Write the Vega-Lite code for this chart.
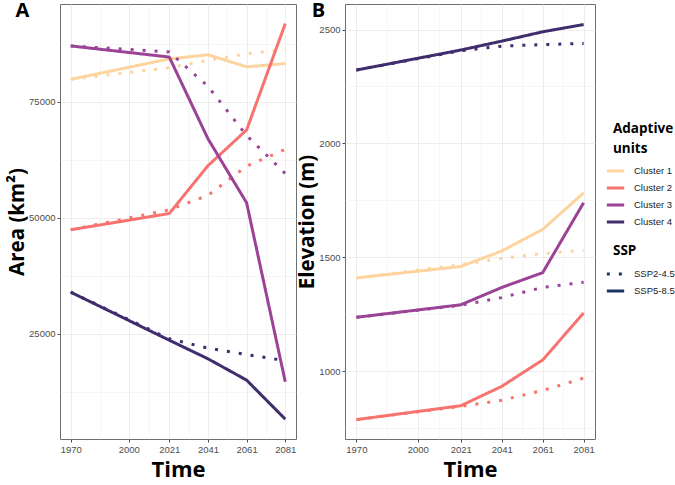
{
  "$schema": "https://vega.github.io/schema/vega-lite/v6.json",
  "padding": {"top": 0, "left": 7, "right": 0, "bottom": 0},
  "background": "white",
  "datasets": {
    "area": [
      {"cluster": "Cluster 1", "ssp": "SSP5-8.5", "year": 1970, "value": 79800},
      {"cluster": "Cluster 1", "ssp": "SSP5-8.5", "year": 2021, "value": 84200},
      {"cluster": "Cluster 1", "ssp": "SSP5-8.5", "year": 2041, "value": 85100},
      {"cluster": "Cluster 1", "ssp": "SSP5-8.5", "year": 2061, "value": 82500},
      {"cluster": "Cluster 1", "ssp": "SSP5-8.5", "year": 2081, "value": 83200},
      {"cluster": "Cluster 1", "ssp": "SSP2-4.5", "year": 1970, "value": 79800},
      {"cluster": "Cluster 1", "ssp": "SSP2-4.5", "year": 2021, "value": 82300},
      {"cluster": "Cluster 1", "ssp": "SSP2-4.5", "year": 2041, "value": 83900},
      {"cluster": "Cluster 1", "ssp": "SSP2-4.5", "year": 2061, "value": 85300},
      {"cluster": "Cluster 1", "ssp": "SSP2-4.5", "year": 2081, "value": 86200},
      {"cluster": "Cluster 2", "ssp": "SSP5-8.5", "year": 1970, "value": 47400},
      {"cluster": "Cluster 2", "ssp": "SSP5-8.5", "year": 2021, "value": 50900},
      {"cluster": "Cluster 2", "ssp": "SSP5-8.5", "year": 2041, "value": 61200},
      {"cluster": "Cluster 2", "ssp": "SSP5-8.5", "year": 2061, "value": 68900},
      {"cluster": "Cluster 2", "ssp": "SSP5-8.5", "year": 2081, "value": 91800},
      {"cluster": "Cluster 2", "ssp": "SSP2-4.5", "year": 1970, "value": 47400},
      {"cluster": "Cluster 2", "ssp": "SSP2-4.5", "year": 2021, "value": 51700},
      {"cluster": "Cluster 2", "ssp": "SSP2-4.5", "year": 2041, "value": 54800},
      {"cluster": "Cluster 2", "ssp": "SSP2-4.5", "year": 2061, "value": 61100},
      {"cluster": "Cluster 2", "ssp": "SSP2-4.5", "year": 2081, "value": 64700},
      {"cluster": "Cluster 3", "ssp": "SSP5-8.5", "year": 1970, "value": 87000},
      {"cluster": "Cluster 3", "ssp": "SSP5-8.5", "year": 2021, "value": 84600},
      {"cluster": "Cluster 3", "ssp": "SSP5-8.5", "year": 2041, "value": 67000},
      {"cluster": "Cluster 3", "ssp": "SSP5-8.5", "year": 2061, "value": 53200},
      {"cluster": "Cluster 3", "ssp": "SSP5-8.5", "year": 2081, "value": 14650},
      {"cluster": "Cluster 3", "ssp": "SSP2-4.5", "year": 1970, "value": 87000},
      {"cluster": "Cluster 3", "ssp": "SSP2-4.5", "year": 2021, "value": 85700},
      {"cluster": "Cluster 3", "ssp": "SSP2-4.5", "year": 2041, "value": 78300},
      {"cluster": "Cluster 3", "ssp": "SSP2-4.5", "year": 2061, "value": 67700},
      {"cluster": "Cluster 3", "ssp": "SSP2-4.5", "year": 2081, "value": 59500},
      {"cluster": "Cluster 4", "ssp": "SSP5-8.5", "year": 1970, "value": 33950},
      {"cluster": "Cluster 4", "ssp": "SSP5-8.5", "year": 2021, "value": 23600},
      {"cluster": "Cluster 4", "ssp": "SSP5-8.5", "year": 2041, "value": 19600},
      {"cluster": "Cluster 4", "ssp": "SSP5-8.5", "year": 2061, "value": 15000},
      {"cluster": "Cluster 4", "ssp": "SSP5-8.5", "year": 2081, "value": 6600},
      {"cluster": "Cluster 4", "ssp": "SSP2-4.5", "year": 1970, "value": 33950},
      {"cluster": "Cluster 4", "ssp": "SSP2-4.5", "year": 2021, "value": 23900},
      {"cluster": "Cluster 4", "ssp": "SSP2-4.5", "year": 2041, "value": 21900},
      {"cluster": "Cluster 4", "ssp": "SSP2-4.5", "year": 2061, "value": 20500},
      {"cluster": "Cluster 4", "ssp": "SSP2-4.5", "year": 2081, "value": 19200}
    ],
    "elev": [
      {"cluster": "Cluster 1", "ssp": "SSP5-8.5", "year": 1970, "value": 1410},
      {"cluster": "Cluster 1", "ssp": "SSP5-8.5", "year": 2021, "value": 1460},
      {"cluster": "Cluster 1", "ssp": "SSP5-8.5", "year": 2041, "value": 1528},
      {"cluster": "Cluster 1", "ssp": "SSP5-8.5", "year": 2061, "value": 1623},
      {"cluster": "Cluster 1", "ssp": "SSP5-8.5", "year": 2081, "value": 1783},
      {"cluster": "Cluster 1", "ssp": "SSP2-4.5", "year": 1970, "value": 1410},
      {"cluster": "Cluster 1", "ssp": "SSP2-4.5", "year": 2021, "value": 1468},
      {"cluster": "Cluster 1", "ssp": "SSP2-4.5", "year": 2041, "value": 1496},
      {"cluster": "Cluster 1", "ssp": "SSP2-4.5", "year": 2061, "value": 1517},
      {"cluster": "Cluster 1", "ssp": "SSP2-4.5", "year": 2081, "value": 1531},
      {"cluster": "Cluster 2", "ssp": "SSP5-8.5", "year": 1970, "value": 788},
      {"cluster": "Cluster 2", "ssp": "SSP5-8.5", "year": 2021, "value": 849},
      {"cluster": "Cluster 2", "ssp": "SSP5-8.5", "year": 2041, "value": 934},
      {"cluster": "Cluster 2", "ssp": "SSP5-8.5", "year": 2061, "value": 1050},
      {"cluster": "Cluster 2", "ssp": "SSP5-8.5", "year": 2081, "value": 1256},
      {"cluster": "Cluster 2", "ssp": "SSP2-4.5", "year": 1970, "value": 788},
      {"cluster": "Cluster 2", "ssp": "SSP2-4.5", "year": 2021, "value": 846},
      {"cluster": "Cluster 2", "ssp": "SSP2-4.5", "year": 2041, "value": 873},
      {"cluster": "Cluster 2", "ssp": "SSP2-4.5", "year": 2061, "value": 916},
      {"cluster": "Cluster 2", "ssp": "SSP2-4.5", "year": 2081, "value": 970},
      {"cluster": "Cluster 3", "ssp": "SSP5-8.5", "year": 1970, "value": 1237},
      {"cluster": "Cluster 3", "ssp": "SSP5-8.5", "year": 2021, "value": 1292},
      {"cluster": "Cluster 3", "ssp": "SSP5-8.5", "year": 2041, "value": 1368},
      {"cluster": "Cluster 3", "ssp": "SSP5-8.5", "year": 2061, "value": 1433},
      {"cluster": "Cluster 3", "ssp": "SSP5-8.5", "year": 2081, "value": 1740},
      {"cluster": "Cluster 3", "ssp": "SSP2-4.5", "year": 1970, "value": 1237},
      {"cluster": "Cluster 3", "ssp": "SSP2-4.5", "year": 2021, "value": 1290},
      {"cluster": "Cluster 3", "ssp": "SSP2-4.5", "year": 2041, "value": 1324},
      {"cluster": "Cluster 3", "ssp": "SSP2-4.5", "year": 2061, "value": 1368},
      {"cluster": "Cluster 3", "ssp": "SSP2-4.5", "year": 2081, "value": 1391},
      {"cluster": "Cluster 4", "ssp": "SSP5-8.5", "year": 1970, "value": 2322},
      {"cluster": "Cluster 4", "ssp": "SSP5-8.5", "year": 2021, "value": 2410},
      {"cluster": "Cluster 4", "ssp": "SSP5-8.5", "year": 2041, "value": 2449},
      {"cluster": "Cluster 4", "ssp": "SSP5-8.5", "year": 2061, "value": 2490},
      {"cluster": "Cluster 4", "ssp": "SSP5-8.5", "year": 2081, "value": 2522},
      {"cluster": "Cluster 4", "ssp": "SSP2-4.5", "year": 1970, "value": 2322},
      {"cluster": "Cluster 4", "ssp": "SSP2-4.5", "year": 2021, "value": 2407},
      {"cluster": "Cluster 4", "ssp": "SSP2-4.5", "year": 2041, "value": 2427},
      {"cluster": "Cluster 4", "ssp": "SSP2-4.5", "year": 2061, "value": 2434},
      {"cluster": "Cluster 4", "ssp": "SSP2-4.5", "year": 2081, "value": 2439}
    ]
  },
  "hconcat": [
    {
      "width": 236,
      "height": 435,
      "data": {"name": "area"},
      "title": {"text": "A", "anchor": "start", "frame": "bounds", "font": "Open Sans", "fontWeight": "bold", "fontSize": 20, "color": "#000", "offset": -17, "dx": 8},
      "mark": {"type": "line", "strokeWidth": 3, "strokeCap": "butt", "strokeJoin": "round"},
      "encoding": {
        "x": {
          "field": "year", "type": "quantitative",
          "scale": {"domain": [1964.45, 2086.55], "nice": false, "zero": false},
          "axis": {
            "title": "Time",
            "titlePadding": 6,
            "titleFontSize": 22,
            "values": [1970, 1985, 2000, 2010.5, 2021, 2031, 2041, 2051, 2061, 2071, 2081],
            "format": "d",
            "labelOverlap": false,
            "labelExpr": "indexof([1970,2000,2021,2041,2061,2081], datum.value) >= 0 ? datum.label : ''",
            "tickOpacity": {"condition": {"test": "indexof([1970,2000,2021,2041,2061,2081], datum.value) >= 0", "value": 1}, "value": 0},
            "gridWidth": {"condition": {"test": "indexof([1970,2000,2021,2041,2061,2081], datum.value) >= 0", "value": 0.9}, "value": 0.45}
          }
        },
        "y": {
          "field": "value", "type": "quantitative",
          "scale": {"domain": [2320, 96030], "nice": false, "zero": false},
          "axis": {
            "title": "Area (km²)",
            "values": [12500, 25000, 37500, 50000, 62500, 75000, 87500],
            "format": "d",
            "labelOverlap": false,
            "labelExpr": "datum.value % 25000 == 0 ? datum.label : ''",
            "tickOpacity": {"condition": {"test": "datum.value % 25000 == 0", "value": 1}, "value": 0},
            "gridWidth": {"condition": {"test": "datum.value % 25000 == 0", "value": 0.9}, "value": 0.45}
          }
        },
        "color": {
          "field": "cluster", "type": "nominal",
          "scale": {"domain": ["Cluster 1", "Cluster 2", "Cluster 3", "Cluster 4"], "range": ["#FDD49E", "#F7736F", "#9A4397", "#3F2D6D"]},
          "legend": {
            "title": ["Adaptive", "units"], "orient": "none", "legendX": 545, "legendY": 118, "symbolSize": 300, "symbolStrokeWidth": 3, "rowPadding": -1, "titlePadding": 5, "symbolDash": [1, 0],
            "encode": {"title": {"update": {"dx": {"value": 8}}}}
          }
        },
        "strokeDash": {
          "field": "ssp", "type": "nominal",
          "scale": {"domain": ["SSP2-4.5", "SSP5-8.5"], "range": [[3, 9], [1, 0]]},
          "legend": {
            "title": "SSP", "orient": "none", "legendX": 545, "legendY": 240, "symbolSize": 300, "symbolStrokeWidth": 3, "rowPadding": -1, "titlePadding": 6, "symbolStrokeColor": "#1D3461",
            "encode": {"title": {"update": {"dx": {"value": 8}}}}
          }
        }
      }
    },
    {
      "width": 250,
      "height": 435,
      "data": {"name": "elev"},
      "title": {"text": "B", "anchor": "start", "frame": "bounds", "font": "Open Sans", "fontWeight": "bold", "fontSize": 20, "color": "#000", "offset": -17, "dx": 14},
      "mark": {"type": "line", "strokeWidth": 3, "strokeCap": "butt", "strokeJoin": "round"},
      "encoding": {
        "x": {
          "field": "year", "type": "quantitative",
          "scale": {"domain": [1964.45, 2086.55], "nice": false, "zero": false},
          "axis": {
            "title": "Time",
            "titlePadding": 6,
            "titleFontSize": 22,
            "values": [1970, 1985, 2000, 2010.5, 2021, 2031, 2041, 2051, 2061, 2071, 2081],
            "format": "d",
            "labelOverlap": false,
            "labelExpr": "indexof([1970,2000,2021,2041,2061,2081], datum.value) >= 0 ? datum.label : ''",
            "tickOpacity": {"condition": {"test": "indexof([1970,2000,2021,2041,2061,2081], datum.value) >= 0", "value": 1}, "value": 0},
            "gridWidth": {"condition": {"test": "indexof([1970,2000,2021,2041,2061,2081], datum.value) >= 0", "value": 0.9}, "value": 0.45}
          }
        },
        "y": {
          "field": "value", "type": "quantitative",
          "scale": {"domain": [703, 2612], "nice": false, "zero": false},
          "axis": {
            "title": "Elevation (m)",
            "values": [750, 1000, 1250, 1500, 1750, 2000, 2250, 2500],
            "format": "d",
            "labelOverlap": false,
            "labelExpr": "datum.value % 500 == 0 ? datum.label : ''",
            "tickOpacity": {"condition": {"test": "datum.value % 500 == 0", "value": 1}, "value": 0},
            "gridWidth": {"condition": {"test": "datum.value % 500 == 0", "value": 0.9}, "value": 0.45}
          }
        },
        "color": {"field": "cluster", "type": "nominal"},
        "strokeDash": {"field": "ssp", "type": "nominal"}
      }
    }
  ],
  "spacing": 0,
  "config": {
    "view": {"stroke": "#6e6e6e", "strokeWidth": 1},
    "axis": {
      "domain": false,
      "labelFont": "Liberation Sans",
      "labelFontSize": 9.5,
      "labelColor": "#4d4d4d",
      "labelPadding": 2,
      "tickColor": "#4d4d4d",
      "tickSize": 3,
      "gridColor": "#ebebeb",
      "titleFont": "Open Sans",
      "titleFontWeight": "bold",
      "titleFontSize": 20.5,
      "titleColor": "#000",
      "titlePadding": 1
    },
    "legend": {
      "titleFont": "Open Sans",
      "titleFontWeight": "bold",
      "titleFontSize": 13.5,
      "titleColor": "#000",
      "titleLineHeight": 20,
      "labelFont": "Liberation Sans",
      "labelFontSize": 9.5,
      "labelColor": "#1a1a1a",
      "labelOffset": 8
    }
  }
}
